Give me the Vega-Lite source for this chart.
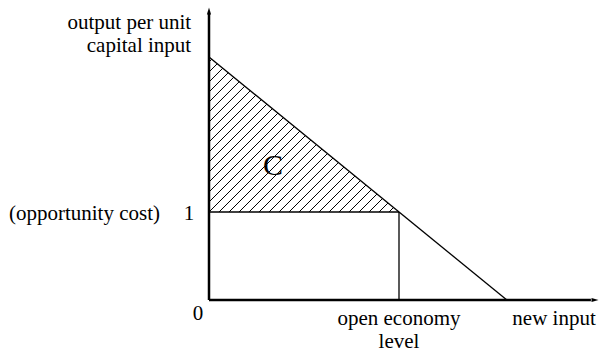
{
  "$schema": "https://vega.github.io/schema/vega-lite/v6.json",
  "width": 394,
  "height": 300,
  "autosize": {"type": "none"},
  "padding": {"left": 209, "top": 0, "right": 0, "bottom": 52},
  "background": "white",
  "config": {"view": {"stroke": null}, "text": {"font": "Liberation Serif", "fontSize": 21, "color": "black"}},
  "datasets": {
    "hatch": [
      {"x": 0, "y": 1, "x2": 0.4493, "y2": 1.970},
      {"x": 0.0526, "y": 1, "x2": 0.4783, "y2": 1.919},
      {"x": 0.1053, "y": 1, "x2": 0.5073, "y2": 1.868},
      {"x": 0.1579, "y": 1, "x2": 0.5362, "y2": 1.817},
      {"x": 0.2105, "y": 1, "x2": 0.5652, "y2": 1.766},
      {"x": 0.2632, "y": 1, "x2": 0.5942, "y2": 1.715},
      {"x": 0.3158, "y": 1, "x2": 0.6232, "y2": 1.664},
      {"x": 0.3684, "y": 1, "x2": 0.6522, "y2": 1.613},
      {"x": 0.4211, "y": 1, "x2": 0.6812, "y2": 1.562},
      {"x": 0.4737, "y": 1, "x2": 0.7102, "y2": 1.511},
      {"x": 0.5263, "y": 1, "x2": 0.7391, "y2": 1.459},
      {"x": 0.5789, "y": 1, "x2": 0.7681, "y2": 1.408},
      {"x": 0.6316, "y": 1, "x2": 0.7971, "y2": 1.357},
      {"x": 0.6842, "y": 1, "x2": 0.8261, "y2": 1.306},
      {"x": 0.7368, "y": 1, "x2": 0.8551, "y2": 1.255},
      {"x": 0.7895, "y": 1, "x2": 0.8841, "y2": 1.204},
      {"x": 0.8421, "y": 1, "x2": 0.9131, "y2": 1.153},
      {"x": 0.8947, "y": 1, "x2": 0.9420, "y2": 1.102},
      {"x": 0.9474, "y": 1, "x2": 0.9710, "y2": 1.051},
      {"x": 0, "y": 1.1136, "x2": 0.4203, "y2": 2.021},
      {"x": 0, "y": 1.2273, "x2": 0.3913, "y2": 2.072},
      {"x": 0, "y": 1.3409, "x2": 0.3623, "y2": 2.123},
      {"x": 0, "y": 1.4545, "x2": 0.3333, "y2": 2.174},
      {"x": 0, "y": 1.5682, "x2": 0.3044, "y2": 2.225},
      {"x": 0, "y": 1.6818, "x2": 0.2754, "y2": 2.276},
      {"x": 0, "y": 1.7955, "x2": 0.2464, "y2": 2.327},
      {"x": 0, "y": 1.9091, "x2": 0.2174, "y2": 2.378},
      {"x": 0, "y": 2.0227, "x2": 0.1884, "y2": 2.430},
      {"x": 0, "y": 2.1364, "x2": 0.1594, "y2": 2.481},
      {"x": 0, "y": 2.25, "x2": 0.1304, "y2": 2.532},
      {"x": 0, "y": 2.3636, "x2": 0.1015, "y2": 2.583},
      {"x": 0, "y": 2.4773, "x2": 0.0725, "y2": 2.634},
      {"x": 0, "y": 2.5909, "x2": 0.0435, "y2": 2.685},
      {"x": 0, "y": 2.7045, "x2": 0.0145, "y2": 2.736}
    ],
    "lines": [
      {"name": "output curve", "x": 0, "y": 2.7614, "x2": 1.5678, "y2": 0},
      {"name": "opportunity cost", "x": 0, "y": 1, "x2": 1, "y2": 1},
      {"name": "open economy level", "x": 1, "y": 0, "x2": 1, "y2": 1}
    ],
    "axes": [
      {"name": "y axis", "x": 0, "y": 0, "x2": 0, "y2": 3.25},
      {"name": "x axis", "x": 0, "y": 0, "x2": 2.01, "y2": 0}
    ],
    "arrowY": [{"name": "y arrow", "x": 0, "y": 3.284}],
    "arrowX": [{"name": "x arrow", "x": 2.0316, "y": 0}],
    "labels": [
      {"text": "output per unit", "x": -0.094, "y": 3.08, "align": "right"},
      {"text": "capital input", "x": -0.094, "y": 2.818, "align": "right"},
      {"text": "(opportunity cost)", "x": -0.258, "y": 0.909, "align": "right"},
      {"text": "1", "x": -0.105, "y": 0.909, "align": "center"},
      {"text": "0", "x": -0.058, "y": -0.227, "align": "center"},
      {"text": "open economy", "x": 1.0, "y": -0.284, "align": "center"},
      {"text": "level", "x": 1.0, "y": -0.545, "align": "center"},
      {"text": "new input", "x": 1.816, "y": -0.284, "align": "center"}
    ],
    "region": [
      {"text": "C", "x": 0.337, "y": 1.4205}
    ]
  },
  "layer": [
    {
      "data": {"name": "hatch"},
      "mark": {"type": "rule", "color": "black", "strokeWidth": 1},
      "encoding": {
        "x": {"field": "x", "type": "quantitative", "scale": {"domain": [0, 2.0737], "nice": false}, "axis": null},
        "y": {"field": "y", "type": "quantitative", "scale": {"domain": [0, 3.4091], "nice": false}, "axis": null},
        "x2": {"field": "x2"},
        "y2": {"field": "y2"}
      }
    },
    {
      "data": {"name": "lines"},
      "mark": {"type": "rule", "color": "black", "strokeWidth": 1.3},
      "encoding": {
        "x": {"field": "x", "type": "quantitative", "scale": {"domain": [0, 2.0737], "nice": false}, "axis": null},
        "y": {"field": "y", "type": "quantitative", "scale": {"domain": [0, 3.4091], "nice": false}, "axis": null},
        "x2": {"field": "x2"},
        "y2": {"field": "y2"}
      }
    },
    {
      "data": {"name": "axes"},
      "mark": {"type": "rule", "color": "black", "strokeWidth": 2.5},
      "encoding": {
        "x": {"field": "x", "type": "quantitative", "scale": {"domain": [0, 2.0737], "nice": false}, "axis": null},
        "y": {"field": "y", "type": "quantitative", "scale": {"domain": [0, 3.4091], "nice": false}, "axis": null},
        "x2": {"field": "x2"},
        "y2": {"field": "y2"}
      }
    },
    {
      "data": {"name": "arrowY"},
      "mark": {"type": "point", "filled": true, "color": "black", "opacity": 1, "size": 49, "shape": "M0,-1L0.6,1L-0.6,1Z"},
      "encoding": {
        "x": {"field": "x", "type": "quantitative", "scale": {"domain": [0, 2.0737], "nice": false}, "axis": null},
        "y": {"field": "y", "type": "quantitative", "scale": {"domain": [0, 3.4091], "nice": false}, "axis": null}
      }
    },
    {
      "data": {"name": "arrowX"},
      "mark": {"type": "point", "filled": true, "color": "black", "opacity": 1, "size": 49, "shape": "M1,0L-1,-0.6L-1,0.6Z"},
      "encoding": {
        "x": {"field": "x", "type": "quantitative", "scale": {"domain": [0, 2.0737], "nice": false}, "axis": null},
        "y": {"field": "y", "type": "quantitative", "scale": {"domain": [0, 3.4091], "nice": false}, "axis": null}
      }
    },
    {
      "data": {"name": "labels"},
      "transform": [{"filter": "datum.align === 'right'"}],
      "mark": {"type": "text", "baseline": "alphabetic", "align": "right"},
      "encoding": {
        "x": {"field": "x", "type": "quantitative", "scale": {"domain": [0, 2.0737], "nice": false}, "axis": null},
        "y": {"field": "y", "type": "quantitative", "scale": {"domain": [0, 3.4091], "nice": false}, "axis": null},
        "text": {"field": "text"}
      }
    },
    {
      "data": {"name": "labels"},
      "transform": [{"filter": "datum.align === 'center'"}],
      "mark": {"type": "text", "baseline": "alphabetic", "align": "center"},
      "encoding": {
        "x": {"field": "x", "type": "quantitative", "scale": {"domain": [0, 2.0737], "nice": false}, "axis": null},
        "y": {"field": "y", "type": "quantitative", "scale": {"domain": [0, 3.4091], "nice": false}, "axis": null},
        "text": {"field": "text"}
      }
    },
    {
      "data": {"name": "region"},
      "mark": {"type": "text", "baseline": "alphabetic", "align": "center", "fontSize": 30},
      "encoding": {
        "x": {"field": "x", "type": "quantitative", "scale": {"domain": [0, 2.0737], "nice": false}, "axis": null},
        "y": {"field": "y", "type": "quantitative", "scale": {"domain": [0, 3.4091], "nice": false}, "axis": null},
        "text": {"field": "text"}
      }
    }
  ]
}
